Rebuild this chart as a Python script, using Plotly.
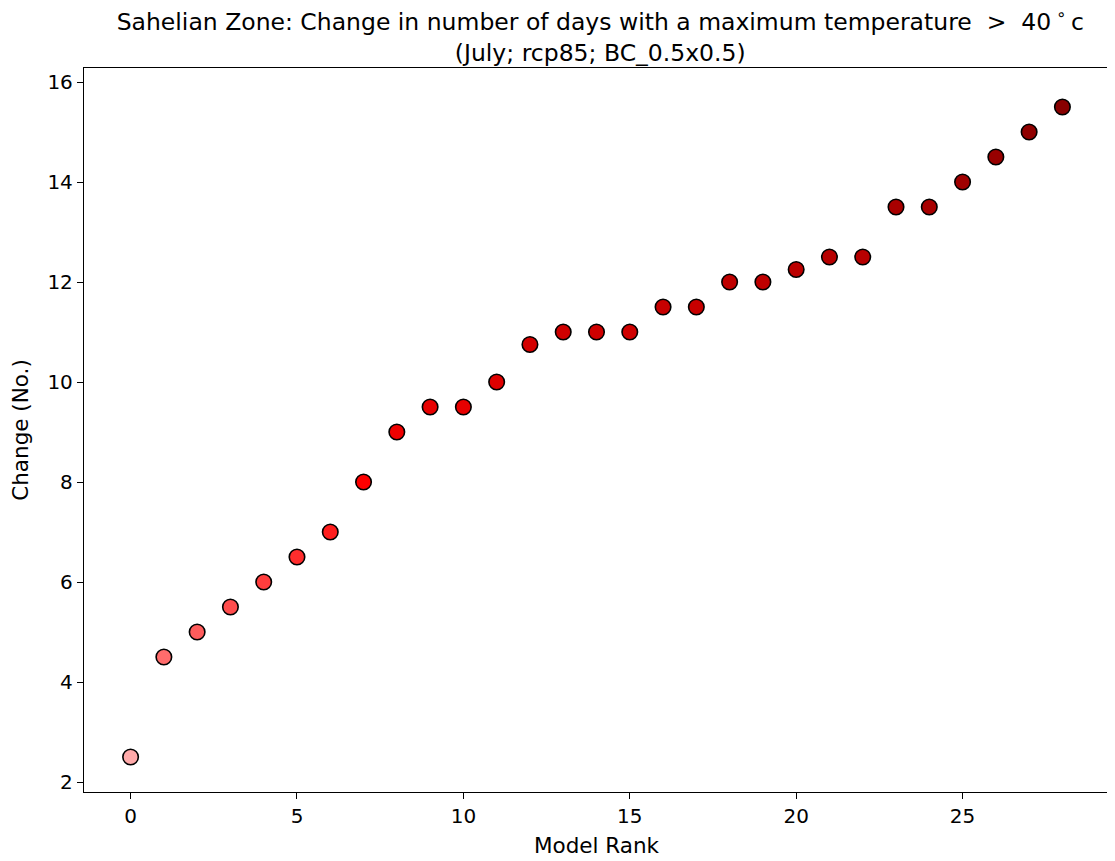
import plotly.graph_objects as go

# model rank vs change in number of hot days
rank = list(range(29))
change = [2.5, 4.5, 5.0, 5.5, 6.0, 6.5, 7.0, 8.0, 9.0, 9.5, 9.5, 10.0, 10.75, 11.0, 11.0,
          11.0, 11.5, 11.5, 12.0, 12.0, 12.25, 12.5, 12.5, 13.5, 13.5, 14.0, 14.5, 15.0, 15.5]

xticks = [0, 5, 10, 15, 20, 25]
yticks = [2, 4, 6, 8, 10, 12, 14, 16]

fig = go.Figure(go.Scatter(
    x=rank, y=change, mode='markers',
    marker=dict(size=15.5, color=change, cmin=min(change), cmax=max(change),
                colorscale=[[0, '#ffaaaa'], [0.42, '#ff0000'], [1, '#880000']],
                line=dict(color='black', width=1.6)),
    showlegend=False))

axis_style = dict(showline=True, linecolor='black', linewidth=1.3, mirror=True,
                  ticks='outside', ticklen=6, tickcolor='black', tickwidth=1.3,
                  showgrid=False, zeroline=False, automargin=False,
                  tickfont=dict(size=20, color='black'))

# page body has an 8px margin, so the figure is 8px smaller than the window
fig.update_layout(
    width=1107, height=853,
    margin=dict(l=76, r=6, t=60, b=69),
    paper_bgcolor='white', plot_bgcolor='white',
    font=dict(family='DejaVu Sans', color='black'),
    title=dict(text='Sahelian Zone: Change in number of days with a maximum temperature  &gt;  40\u2009<sup>∘</sup>\u2009c<br>(July; rcp85; BC_0.5x0.5)',
               x=0.535, xanchor='center', yref='container', y=0.974, yanchor='middle',
               font=dict(size=23.5), automargin=False),
    xaxis=dict(range=[-1.4, 29.4], tickvals=xticks,
               title=dict(text='Model Rank', font=dict(size=21.5), standoff=10), **axis_style),
    yaxis=dict(range=[1.8, 16.28], tickvals=yticks,
               title=dict(text='Change (No.)', font=dict(size=21.5), standoff=12), **axis_style),
)

fig.write_html('out.html')
